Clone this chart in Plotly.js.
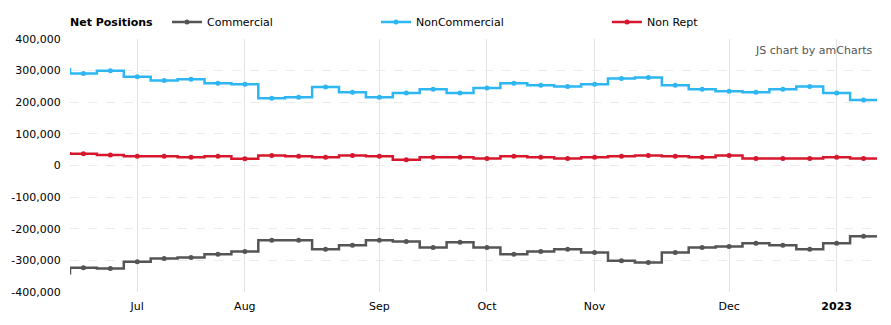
<!DOCTYPE html>
<html>
<head>
<meta charset="utf-8">
<script src="https://cdn.plot.ly/plotly-3.0.1.min.js"></script>
<style>html,body{margin:0;padding:0;background:#fff}#chart{width:891px;height:325px}</style>
</head>
<body>
<div id="chart"></div>
<script>
// Weekly report dates (first one lies just before the visible range)
var dates = ['2022-06-14','2022-06-21','2022-06-28','2022-07-05','2022-07-12','2022-07-19','2022-07-26',
  '2022-08-02','2022-08-09','2022-08-16','2022-08-23','2022-08-30','2022-09-06','2022-09-13','2022-09-20',
  '2022-09-27','2022-10-04','2022-10-11','2022-10-18','2022-10-25','2022-11-01','2022-11-08','2022-11-15',
  '2022-11-22','2022-11-29','2022-12-06','2022-12-13','2022-12-20','2022-12-27','2023-01-03','2023-01-10'];
var commercial = [-341000,-323000,-326000,-304000,-294000,-291000,-281000,-272000,-236000,-236000,-265000,
  -252000,-236000,-240000,-259000,-243000,-259000,-281000,-272000,-265000,-275000,-301000,-307000,-275000,
  -259000,-256000,-246000,-252000,-265000,-246000,-224000];
var nonCommercial = [304000,291000,300000,281000,269000,273000,260000,257000,213000,216000,248000,232000,
  216000,229000,241000,229000,245000,260000,254000,250000,257000,275000,278000,254000,241000,235000,232000,
  241000,250000,229000,207000];
var nonRept = [39000,37000,33000,29000,29000,26000,29000,21000,32000,29000,26000,32000,29000,18000,26000,
  26000,22000,29000,26000,22000,26000,29000,32000,29000,26000,32000,22000,22000,22000,26000,22000];
var seriesNames = ['Commercial','NonCommercial','Non Rept'];
var seriesColors = ['#555555','#2db6f2','#d6172c'];
var legendTitle = 'Net Positions';
var xTickVals = ['2022-07-05','2022-08-02','2022-09-06','2022-10-04','2022-11-01','2022-12-06','2023-01-03'];
var xTickText = ['Jul','Aug','Sep','Oct','Nov','Dec','<b>2023</b>'];
var yTickVals = [-400000,-300000,-200000,-100000,0,100000,200000,300000,400000];
var yTickText = yTickVals.map(function(v){return (v<0?'-':'')+Math.abs(v).toString().replace(/\B(?=(\d{3})+(?!\d))/g, ',');});

var DAY = 86400000;
function shiftDate(s, days){
  var t = new Date(s+'T00:00:00Z').getTime() + days*DAY;
  return new Date(t).toISOString().slice(0,19).replace('T',' ');
}
var xRange = [shiftDate(dates[1], -3.5), shiftDate(dates[dates.length-1], 3.5)];

var allSeries = [commercial, nonCommercial, nonRept];
var traces = [];
allSeries.forEach(function(vals, i){
  traces.push({
    type:'scatter', mode:'lines+markers', x:dates, y:vals, name:seriesNames[i],
    line:{shape:'hvh', color:seriesColors[i], width:2.5},
    marker:{size:5, color:seriesColors[i]},
    legend: i===0 ? 'legend' : 'legend'+(i+1),
    hoverinfo:'skip'
  });
  // tail half-cell after the last point (step line fills the whole week cell)
  var last = dates.length-1;
  traces.push({
    type:'scatter', mode:'lines', x:[dates[last], shiftDate(dates[last],3.5)], y:[vals[last], vals[last]],
    line:{color:seriesColors[i], width:2.5}, showlegend:false, hoverinfo:'skip'
  });
});

var font = {family:'"DejaVu Sans", Verdana, sans-serif', size:11, color:'#000'};
var legBase = {orientation:'h', xref:'container', yref:'container', yanchor:'middle', xanchor:'left',
  y:1-22/325, bgcolor:'rgba(0,0,0,0)', font:font, itemclick:false, itemdoubleclick:false};

var layout = {
  width:891, height:325,
  margin:{l:70, r:14, t:39, b:33},
  paper_bgcolor:'#fff', plot_bgcolor:'#fff',
  font:font,
  showlegend:true,
  legend:Object.assign({}, legBase, {x:167/891}),
  legend2:Object.assign({}, legBase, {x:376/891}),
  legend3:Object.assign({}, legBase, {x:607/891}),
  xaxis:{type:'date', range:xRange, tickmode:'array', tickvals:xTickVals, ticktext:xTickText,
    showgrid:true, gridcolor:'#e3e3e3', gridwidth:1, zeroline:false, showline:false,
    ticks:'outside', ticklen:4, tickcolor:'rgba(0,0,0,0)', tickfont:font, fixedrange:true},
  yaxis:{range:[-400000,400000], tickmode:'array', tickvals:yTickVals, ticktext:yTickText,
    showgrid:true, gridcolor:'#ebebeb', griddash:'dash', gridwidth:1, zeroline:false, showline:false,
    ticks:'outside', ticklen:6, tickcolor:'rgba(0,0,0,0)', tickfont:font, fixedrange:true},
  annotations:[
    {text:'<b>'+legendTitle+'</b>', xref:'paper', yref:'paper', x:0, y:(292-21)/253,
      xanchor:'left', yanchor:'middle', xshift:-2, yshift:-1.5, showarrow:false, font:font},
    {text:'JS chart by amCharts', xref:'paper', yref:'paper', x:1, y:(292-51)/253,
      xanchor:'right', yanchor:'middle', xshift:-3, showarrow:false,
      font:{family:'"DejaVu Sans", Verdana, sans-serif', size:11, color:'#555'}}],
  hovermode:false
};
Plotly.newPlot('chart', traces, layout, {displayModeBar:false, staticPlot:true});
</script>
</body>
</html>
